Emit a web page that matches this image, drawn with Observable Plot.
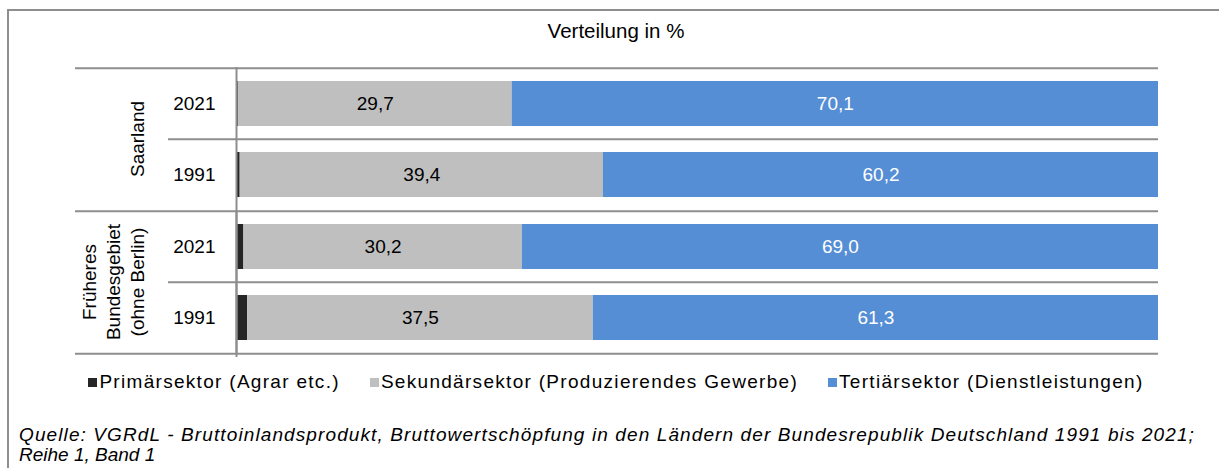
<!DOCTYPE html>
<html>
<head>
<meta charset="utf-8">
<script src="https://cdn.jsdelivr.net/npm/d3@7"></script>
<script src="https://cdn.jsdelivr.net/npm/@observablehq/plot@0.6"></script>
<style>
  body { margin: 0; background: #fff; }
  #wrap { position: relative; width: 1219px; height: 468px; overflow: hidden; background: #fff;
          font-family: "Liberation Sans", Arial, sans-serif; color: #000; }
  #frame { position: absolute; left: 7px; top: 9px; width: 1400px; height: 700px;
           border: 2px solid #8e8e8e; box-sizing: border-box; }
  #title { position: absolute; left: 0; width: 1232px; top: 19px; text-align: center;
           font-size: 20.5px; line-height: 24px; }
  #chart { position: absolute; left: 0; top: 0; }
  #legend { position: absolute; left: 0; width: 1232px; top: 370px; display: flex;
            justify-content: center; font-size: 19px; line-height: 24px; white-space: nowrap;
            letter-spacing: 1.3px; }
  .item { display: flex; align-items: center; margin: 0 15px; }
  .sw { width: 9px; height: 9px; margin-right: 2px; }
  #caption { position: absolute; left: 19px; top: 425px; font-size: 19px; font-style: italic;
             line-height: 20px; white-space: nowrap; }
</style>
</head>
<body>
<div id="wrap">
  <div id="frame"></div>
  <div id="chart"></div>
  <div id="title"></div>
  <div id="legend"></div>
  <div id="caption"></div>
</div>
<script>
// ---- data ----
const titleText = "Verteilung in %";
const regions = ["Saarland", "Früheres\nBundesgebiet\n(ohne Berlin)"];
const years = ["2021", "1991"];
const sectors = ["Primärsektor (Agrar etc.)", "Sekundärsektor (Produzierendes Gewerbe)", "Tertiärsektor (Dienstleistungen)"];
const sectorColors = ["#262626", "#bfbfbf", "#558ed5"];
// values per region, in order of years (2021, 1991)
const primaryValues   = [[0.2, 0.4], [0.8, 1.2]];
const secondaryValues = [[29.7, 39.4], [30.2, 37.5]];
const tertiaryValues  = [[70.1, 60.2], [69.0, 61.3]];
const captionLines = [
  "Quelle: VGRdL - Bruttoinlandsprodukt, Bruttowertschöpfung in den Ländern der Bundesrepublik Deutschland 1991 bis 2021;",
  "Reihe 1, Band 1"
];

// ---- table ----
const seriesValues = [primaryValues, secondaryValues, tertiaryValues];
const data = [];
regions.forEach((region, ri) => {
  years.forEach((year, yi) => {
    sectors.forEach((sector, si) => {
      data.push({region, year, sector, value: seriesValues[si][ri][yi]});
    });
  });
});
const rows = [];
regions.forEach(region => years.forEach(year => rows.push({region, year})));
const fmt = v => v.toFixed(1).replace(".", ",");

// ---- layout ----
const W = 1219, H = 468;
const mTop = 67, mBottom = H - 353, mLeft = 236, mRight = W - 1158;
const step = (H - mTop - mBottom) / (regions.length * years.length);
const lineColor = "#8e8e8e";

const plot = Plot.plot({
  width: W,
  height: H,
  marginTop: mTop,
  marginBottom: mBottom,
  marginLeft: mLeft,
  marginRight: mRight,
  style: {fontFamily: "'Liberation Sans', Arial, sans-serif", fontSize: "19px", background: "transparent", color: "#000"},
  x: {domain: [0, 100], axis: null},
  y: {domain: years, paddingInner: 0.37, paddingOuter: 0.185, axis: null},
  fy: {domain: regions, padding: 0, axis: null},
  color: {domain: sectors, range: sectorColors},
  marks: [
    Plot.barX(data, {x: "value", y: "year", fy: "region", fill: "sector", z: "sector"}),
    Plot.text(data, Plot.stackX({x: "value", y: "year", fy: "region", z: "sector",
      text: d => d.sector === sectors[1] ? fmt(d.value) : null, fill: "#000"})),
    Plot.text(data, Plot.stackX({x: "value", y: "year", fy: "region", z: "sector",
      text: d => d.sector === sectors[2] ? fmt(d.value) : null, fill: "#fff"})),
    // separators
    Plot.ruleY(regions, {fy: d => d, y: () => years[0], dy: -step / 2, insetLeft: -(mLeft - 75), stroke: lineColor, strokeWidth: 2}),
    Plot.ruleY(regions, {fy: d => d, y: () => years[1], dy: -step / 2, insetLeft: -(mLeft - 168), stroke: lineColor, strokeWidth: 2}),
    Plot.ruleY([regions[regions.length - 1]], {fy: d => d, y: () => years[years.length - 1], dy: step / 2, insetLeft: -(mLeft - 75), stroke: lineColor, strokeWidth: 2}),
    Plot.ruleX([0], {stroke: lineColor, strokeWidth: 2}),
    Plot.ruleX([0], {fy: () => regions[regions.length - 1], insetBottom: -4, stroke: lineColor, strokeWidth: 2}),
    // year labels
    Plot.text(rows, {fy: "region", y: "year", text: "year", frameAnchor: "left", dx: -21, textAnchor: "end", fill: "#000"}),
    // region labels
    Plot.text(regions, {fy: d => d, text: d => d, frameAnchor: "left", rotate: -90, dx: -93,
      lineAnchor: "bottom", textAnchor: "middle", lineHeight: 1.26, fill: "#000"})
  ]
});
document.getElementById("chart").appendChild(plot);

document.getElementById("title").textContent = titleText;

const legend = document.getElementById("legend");
sectors.forEach((s, i) => {
  const item = document.createElement("div");
  item.className = "item";
  const sw = document.createElement("span");
  sw.className = "sw";
  sw.style.background = sectorColors[i];
  const label = document.createElement("span");
  label.textContent = s;
  item.appendChild(sw);
  item.appendChild(label);
  legend.appendChild(item);
});

// caption: the first line runs across the box (to x ≈ 1195)
const cap = document.getElementById("caption");
const spans = captionLines.map(t => {
  const d = document.createElement("div");
  const span = document.createElement("span");
  span.textContent = t;
  d.appendChild(span);
  cap.appendChild(d);
  return span;
});
const w0 = spans[0].getBoundingClientRect().width;
const target = 1195 - 19;
const ls = w0 < target ? (target - w0) / captionLines[0].length : 0;
spans[0].style.letterSpacing = ls + "px";
</script>
</body>
</html>
